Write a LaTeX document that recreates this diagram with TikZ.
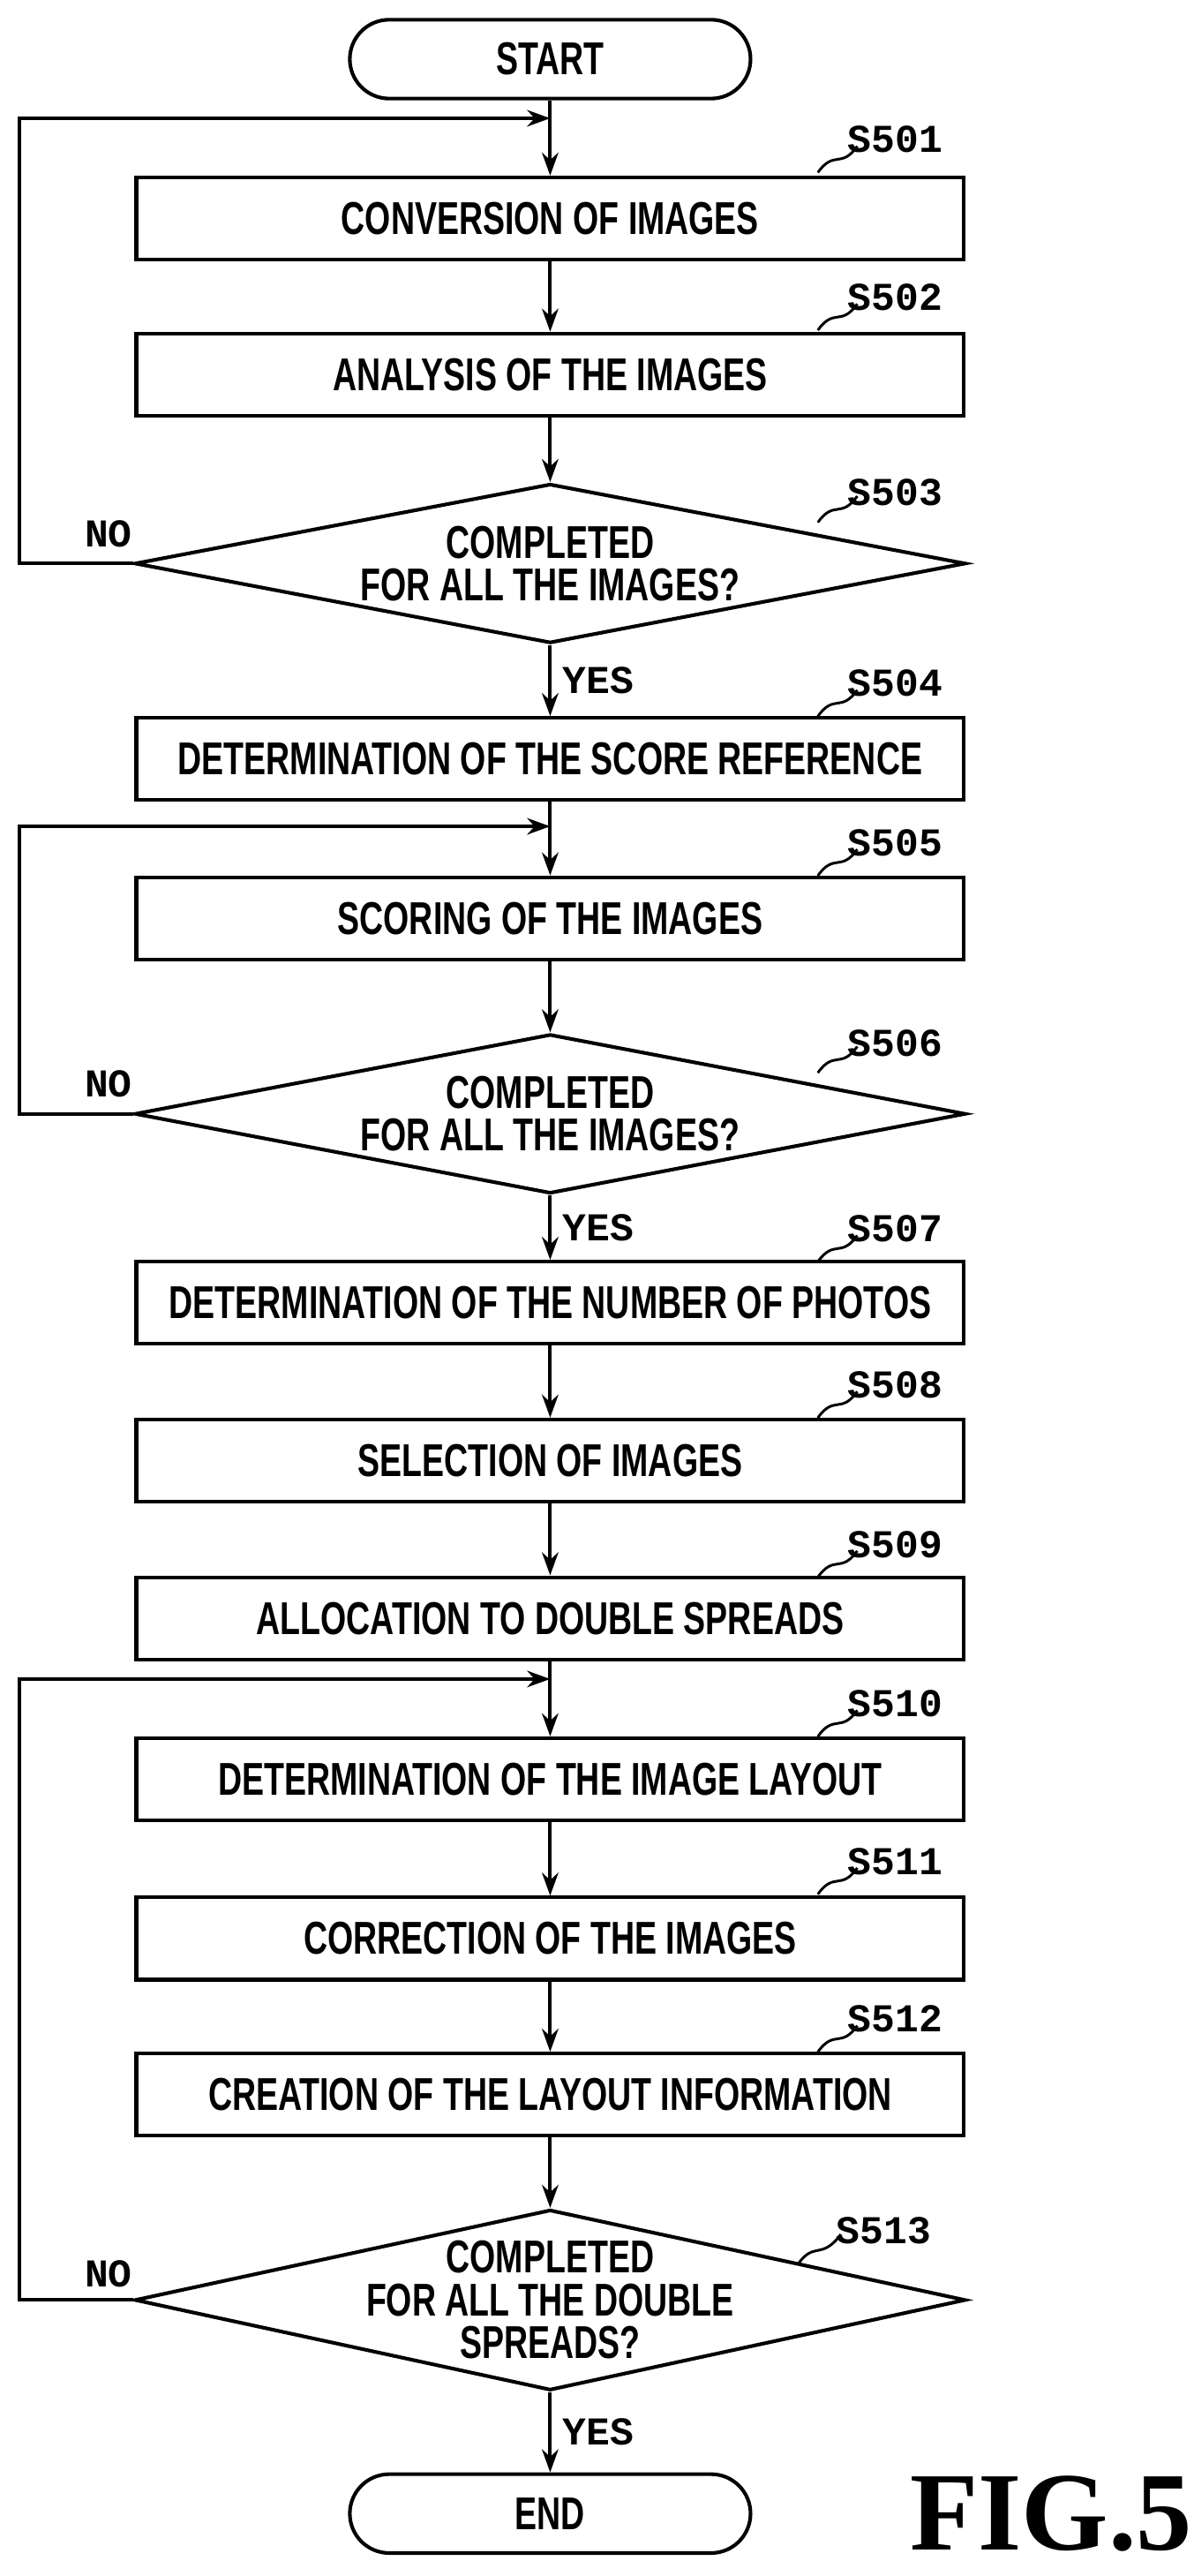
\documentclass[tikz,border=0pt]{standalone}
\usepackage{fontspec}
\setmainfont{Liberation Sans}[FakeStretch=0.72]
\newfontfamily\labfont{Liberation Mono}
\newfontfamily\figfont{Liberation Serif}
\usetikzlibrary{shapes.geometric,arrows.meta}
\begin{document}
\begin{tikzpicture}[x=0.5pt,y=-0.5pt,
	stepbox/.style={draw, line width=1.1pt, minimum width=252pt, minimum height=25pt, font=\fontsize{14}{15}\selectfont\bfseries},
	term/.style={draw, line width=1.1pt, rounded corners=12pt, minimum width=122pt, minimum height=24pt, font=\fontsize{14}{15}\selectfont\bfseries},
	decide/.style={draw, diamond, line width=1.1pt, aspect=5.2, inner sep=0pt, minimum width=253pt, minimum height=48.5pt, align=center, font=\fontsize{14}{13}\selectfont\bfseries},
	steplab/.style={font=\labfont\fontsize{12}{12}\selectfont\bfseries},
	flow/.style={line width=1.1pt, -{Stealth[length=7pt,width=5pt]}}]
	\useasboundingbox (0,0) rectangle (727,1568);
	% terminals and steps
	\node[term] (start) at (335,36) {START};
	\node[stepbox] (s501) at (335,133) {CONVERSION OF IMAGES};
	\node[stepbox] (s502) at (335,228) {ANALYSIS OF THE IMAGES};
	\node[decide] (s503) at (335,343) {COMPLETED\\FOR ALL THE IMAGES?};
	\node[stepbox] (s504) at (335,462) {DETERMINATION OF THE SCORE REFERENCE};
	\node[stepbox] (s505) at (335,559) {SCORING OF THE IMAGES};
	\node[decide] (s506) at (335,678) {COMPLETED\\FOR ALL THE IMAGES?};
	\node[stepbox] (s507) at (335,793) {DETERMINATION OF THE NUMBER OF PHOTOS};
	\node[stepbox] (s508) at (335,889) {SELECTION OF IMAGES};
	\node[stepbox] (s509) at (335,985) {ALLOCATION TO DOUBLE SPREADS};
	\node[stepbox] (s510) at (335,1083) {DETERMINATION OF THE IMAGE LAYOUT};
	\node[stepbox] (s511) at (335,1180) {CORRECTION OF THE IMAGES};
	\node[stepbox] (s512) at (335,1275) {CREATION OF THE LAYOUT INFORMATION};
	\node[decide, minimum height=55pt] (s513) at (335,1400) {};
	\node[align=center, font=\fontsize{14}{13}\selectfont\bfseries] (s513t) at (335,1400) {COMPLETED\\FOR ALL THE DOUBLE\\SPREADS?};
	\node[term] (end) at (335,1530) {END};
	% loop entries
	\coordinate (j1) at (335,72);
	\coordinate (j2) at (335,503);
	\coordinate (j3) at (335,1022);
	% main flow
	\draw[line width=1.1pt] (start) -- (j1);
	\draw[flow] (j1) -- (s501);
	\draw[flow] (s501) -- (s502);
	\draw[flow] (s502) -- (s503);
	\draw[flow] (s503) -- node[right, steplab] {YES} (s504);
	\draw[line width=1.1pt] (s504) -- (j2);
	\draw[flow] (j2) -- (s505);
	\draw[flow] (s505) -- (s506);
	\draw[flow] (s506) -- node[right, steplab] {YES} (s507);
	\draw[flow] (s507) -- (s508);
	\draw[flow] (s508) -- (s509);
	\draw[line width=1.1pt] (s509) -- (j3);
	\draw[flow] (j3) -- (s510);
	\draw[flow] (s510) -- (s511);
	\draw[flow] (s511) -- (s512);
	\draw[flow] (s512) -- (s513);
	\draw[flow] (s513) -- node[right, steplab] {YES} (end);
	% NO loops
	\draw[flow] (s503.west) -- (12,343) |- (j1);
	\draw[flow] (s506.west) -- (12,678) |- (j2);
	\draw[flow] (s513.west) -- (12,1400) |- (j3);
	\node[steplab] (no1) at (66,325) {NO};
	\node[steplab] (no2) at (66,660) {NO};
	\node[steplab] (no3) at (66,1384) {NO};
	% step labels
	\foreach \n/\y in {501/85, 502/181, 504/416, 505/513, 507/748, 508/843, 509/940, 510/1037, 511/1133, 512/1229}{
		\node[steplab] at (545,\y) {S\n};
		\draw[line width=0.8pt] (498,\y+20) .. controls (508,\y+6) and (512,\y+18) .. (522,\y+4);
	}
	\node[steplab] at (545,300) {S503};
	\draw[line width=0.8pt] (498,318) .. controls (508,304) and (512,316) .. (522,302);
	\node[steplab] at (545,635) {S506};
	\draw[line width=0.8pt] (498,653) .. controls (508,639) and (512,651) .. (522,637);
	\node[steplab] at (538,1358) {S513};
	\draw[line width=0.8pt] (486,1378) .. controls (496,1364) and (500,1376) .. (512,1360);
	\node[font=\figfont\bfseries\fontsize{34}{34}\selectfont] (fig) at (640,1530) {FIG.5};
\end{tikzpicture}
\end{document}
